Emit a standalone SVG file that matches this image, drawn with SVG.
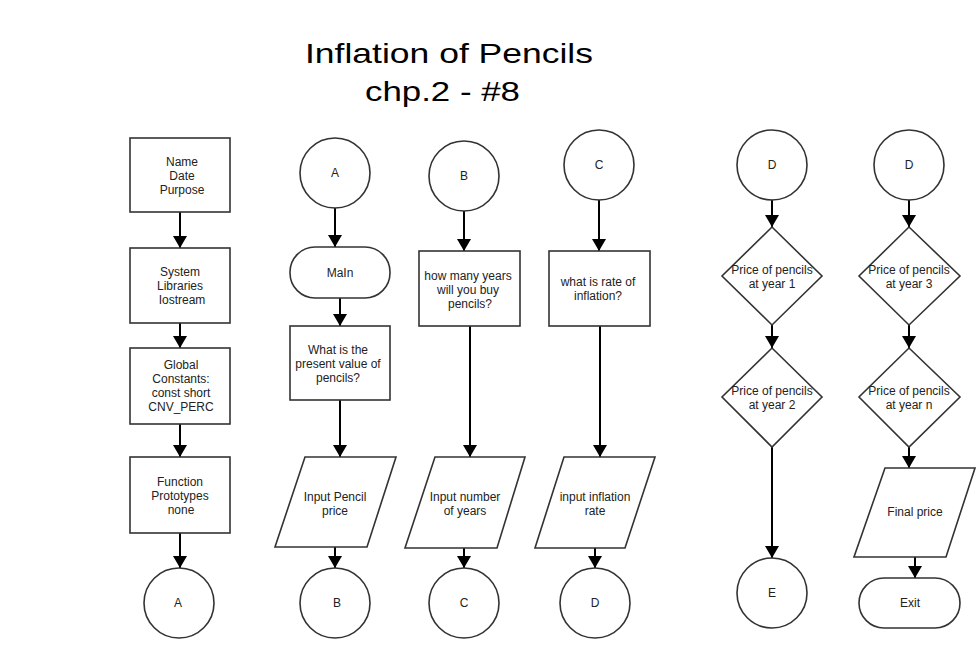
<svg xmlns="http://www.w3.org/2000/svg" width="980" height="658" viewBox="0 0 980 658">
<style>
.s{fill:#fff;stroke:#333;stroke-width:1.6}
.c{stroke:#000;stroke-width:2;fill:none;marker-end:url(#ah)}
text{font-family:"Liberation Sans",Arial,sans-serif;font-size:12px;fill:#222;text-anchor:middle}
.t{font-size:28px;fill:#000;text-anchor:start}
</style>
<defs>
<marker id="ah" viewBox="0 0 12 14" refX="12" refY="7" markerWidth="12" markerHeight="14" orient="auto" markerUnits="userSpaceOnUse">
<path d="M0,0 L12,7 L0,14 z" fill="#000"/>
</marker>
</defs>
<rect width="980" height="658" fill="#fff"/>
<g id="title">
<text class="t" x="305" y="63" textLength="288" lengthAdjust="spacingAndGlyphs">Inflation of Pencils</text>
<text class="t" x="365" y="101" textLength="155" lengthAdjust="spacingAndGlyphs">chp.2 - #8</text>
</g>
<g id="connectors">
<line class="c" x1="180" y1="212" x2="180" y2="248"/>
<line class="c" x1="180" y1="323" x2="180" y2="348"/>
<line class="c" x1="180" y1="424" x2="180" y2="457"/>
<line class="c" x1="180" y1="533" x2="180" y2="568"/>
<line class="c" x1="335" y1="208" x2="335" y2="247"/>
<line class="c" x1="340" y1="298" x2="340" y2="326"/>
<line class="c" x1="340" y1="400" x2="340" y2="457"/>
<line class="c" x1="335" y1="547" x2="335" y2="568"/>
<line class="c" x1="464" y1="211" x2="464" y2="251"/>
<line class="c" x1="470" y1="326" x2="470" y2="457"/>
<line class="c" x1="464" y1="548" x2="464" y2="568"/>
<line class="c" x1="599" y1="200" x2="599" y2="251"/>
<line class="c" x1="600" y1="326" x2="600" y2="457"/>
<line class="c" x1="595" y1="548" x2="595" y2="568"/>
<line class="c" x1="772" y1="200" x2="772" y2="227"/>
<line class="c" x1="772" y1="325" x2="772" y2="348"/>
<line class="c" x1="772" y1="447" x2="772" y2="558"/>
<line class="c" x1="909" y1="200" x2="909" y2="227"/>
<line class="c" x1="909" y1="325" x2="909" y2="348"/>
<line class="c" x1="909" y1="447" x2="909" y2="468"/>
<line class="c" x1="915" y1="557" x2="915" y2="578"/>
</g>
<g id="n-name">
<rect class="s" x="130" y="138" width="100" height="74"/>
<text x="182" y="166">Name</text><text x="182" y="180">Date</text><text x="182" y="194">Purpose</text>
</g>
<g id="n-libs">
<rect class="s" x="130" y="248" width="100" height="75"/>
<text x="180" y="276">System</text><text x="180" y="290">Libraries</text><text x="182" y="304">Iostream</text>
</g>
<g id="n-global">
<rect class="s" x="130" y="348" width="100" height="76"/>
<text x="181" y="369">Global</text><text x="181" y="383">Constants:</text><text x="181" y="397">const short</text><text x="181" y="411">CNV_PERC</text>
</g>
<g id="n-func">
<rect class="s" x="130" y="457" width="100" height="76"/>
<text x="180" y="486">Function</text><text x="180" y="500">Prototypes</text><text x="181" y="514">none</text>
</g>
<g id="n-a1">
<circle class="s" cx="179" cy="603" r="35"/>
<text x="178" y="607">A</text>
</g>
<g id="n-a2">
<circle class="s" cx="335" cy="173" r="35"/>
<text x="335" y="177">A</text>
</g>
<g id="n-main">
<rect class="s" x="290" y="247" width="100" height="51" rx="25" ry="25"/>
<text x="340" y="277">MaIn</text>
</g>
<g id="n-present">
<rect class="s" x="290" y="326" width="100" height="74"/>
<text x="338" y="354">What is the</text><text x="338" y="368">present value of</text><text x="338" y="382">pencils?</text>
</g>
<g id="n-inprice">
<polygon class="s" points="305,457 396,457 367,547 275,547"/>
<text x="335" y="501">Input Pencil</text><text x="335" y="515">price</text>
</g>
<g id="n-b1">
<circle class="s" cx="335" cy="603" r="35"/>
<text x="337" y="607">B</text>
</g>
<g id="n-b2">
<circle class="s" cx="464" cy="176" r="35"/>
<text x="464" y="180">B</text>
</g>
<g id="n-years">
<rect class="s" x="419" y="251" width="101" height="75"/>
<text x="468" y="280">how many years</text><text x="468" y="294">will you buy</text><text x="470" y="308">pencils?</text>
</g>
<g id="n-inyears">
<polygon class="s" points="435,457 525,457 497,548 405,548"/>
<text x="465" y="501">Input number</text><text x="465" y="515">of years</text>
</g>
<g id="n-c1">
<circle class="s" cx="464" cy="603" r="35"/>
<text x="464" y="607">C</text>
</g>
<g id="n-c2">
<circle class="s" cx="599" cy="165" r="35"/>
<text x="599" y="169">C</text>
</g>
<g id="n-rate">
<rect class="s" x="549" y="251" width="101" height="75"/>
<text x="598" y="286">what is rate of</text><text x="598" y="300">inflation?</text>
</g>
<g id="n-inrate">
<polygon class="s" points="564,457 655,457 625,548 535,548"/>
<text x="595" y="501">input inflation</text><text x="595" y="515">rate</text>
</g>
<g id="n-d1">
<circle class="s" cx="595" cy="603" r="35"/>
<text x="595" y="607">D</text>
</g>
<g id="n-d2">
<circle class="s" cx="772" cy="165" r="35"/>
<text x="772" y="169">D</text>
</g>
<g id="n-y1">
<polygon class="s" points="772,227 822,276 772,325 722,276"/>
<text x="772" y="274">Price of pencils</text><text x="772" y="288">at year 1</text>
</g>
<g id="n-y2">
<polygon class="s" points="772,348 822,397 772,447 722,397"/>
<text x="772" y="395">Price of pencils</text><text x="772" y="409">at year 2</text>
</g>
<g id="n-e">
<circle class="s" cx="772" cy="593" r="35"/>
<text x="772" y="597">E</text>
</g>
<g id="n-d3">
<circle class="s" cx="909" cy="165" r="35"/>
<text x="909" y="169">D</text>
</g>
<g id="n-y3">
<polygon class="s" points="909,227 960,276 909,325 859,276"/>
<text x="909" y="274">Price of pencils</text><text x="909" y="288">at year 3</text>
</g>
<g id="n-yn">
<polygon class="s" points="909,348 960,397 909,447 859,397"/>
<text x="909" y="395">Price of pencils</text><text x="909" y="409">at year n</text>
</g>
<g id="n-final">
<polygon class="s" points="885,468 975,468 946,557 854,557"/>
<text x="915" y="516">Final price</text>
</g>
<g id="n-exit">
<rect class="s" x="859" y="578" width="101" height="50" rx="25" ry="25"/>
<text x="910" y="607">Exit</text>
</g>
</svg>
